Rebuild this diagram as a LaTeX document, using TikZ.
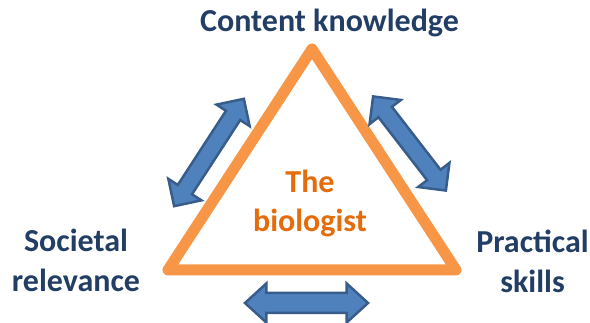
\documentclass[tikz,border=0pt]{standalone}
\usepackage{fontspec}
\setmainfont{Carlito}
\usetikzlibrary{shapes.arrows}
\definecolor{labelblue}{RGB}{35,62,100}
\definecolor{triorange}{RGB}{247,150,70}
\definecolor{textorange}{RGB}{228,108,10}
\definecolor{arrowfill}{RGB}{79,129,189}
\definecolor{arrowline}{RGB}{56,93,138}
\begin{document}
\begin{tikzpicture}[x=1pt,y=1pt,
	corner/.style={font=\bfseries\fontsize{32}{40}\selectfont, text=labelblue, align=center, inner sep=0pt, anchor=base},
	link/.style={double arrow, draw=arrowline, fill=arrowfill, line width=2.5pt, inner xsep=0pt}]
		\useasboundingbox (0,0) rectangle (590,323);
		\coordinate (top) at (312,274);
		\coordinate (left) at (168,53);
		\coordinate (right) at (456,53);
		\draw[triorange, line width=11pt, line join=round] (left) -- (right) -- (top) -- cycle;
		\node[corner] (content) at (329.5,291) {Content knowledge};
		\node[corner] (societal) at (76,31) {Societal\\relevance};
		\node[corner] (practical) at (532.5,30) {Practical\\skills};
		\node[corner, text=textorange, font=\bfseries\fontsize{32}{39}\selectfont] (biologist) at (310,91) {The\\biologist};
		\node[link, inner ysep=7.25pt, minimum height=128pt, minimum width=37pt, double arrow head extend=11.25pt, double arrow tip angle=90, rotate=57] (leftlink) at (209,170.5) {};
		\node[link, inner ysep=7.25pt, minimum height=119pt, minimum width=37pt, double arrow head extend=11.25pt, double arrow tip angle=90, rotate=-52.3] (rightlink) at (409.5,179.5) {};
		\node[link, inner ysep=8.75pt, minimum height=123pt, minimum width=36.5pt, double arrow head extend=9.5pt, double arrow tip angle=85] (bottomlink) at (306.5,20) {};
	\end{tikzpicture}
\end{document}
